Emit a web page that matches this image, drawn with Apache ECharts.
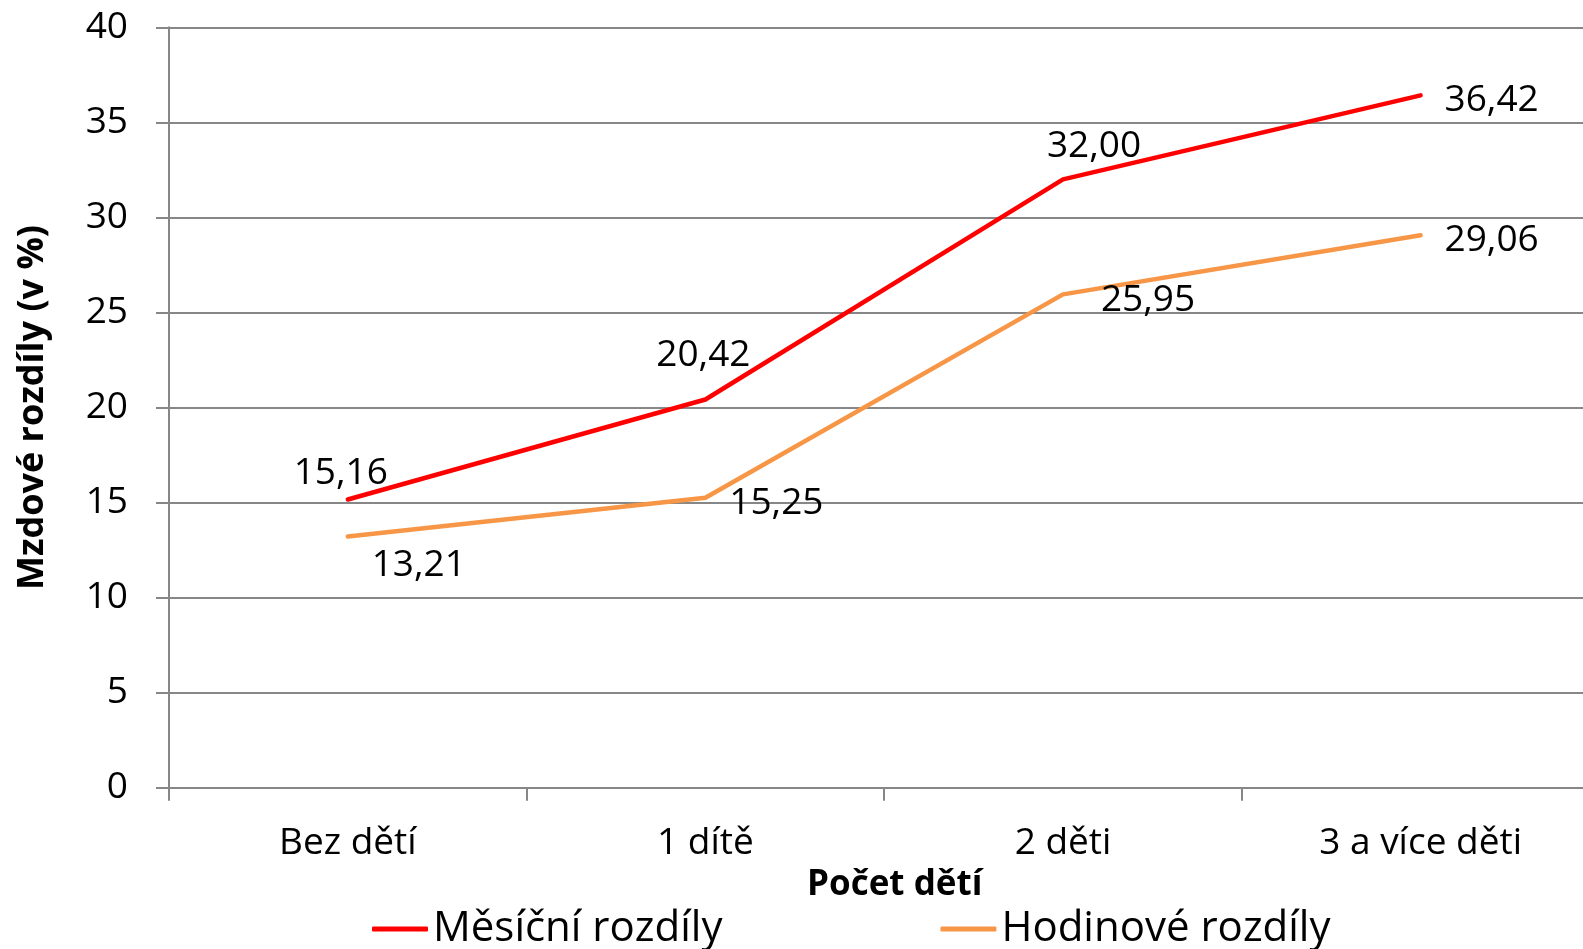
<!DOCTYPE html>
<html>
<head>
<meta charset="utf-8">
<title>Mzdové rozdíly</title>
<script src="https://cdn.jsdelivr.net/npm/echarts@6/dist/echarts.min.js"></script>
<style>
    html, body { margin: 0; padding: 0; background: #fff; overflow: hidden; }
    /* the plot runs a bit past the right edge of the picture, so the div is wider than the window */
    #chart { width: 1640px; height: 949px; }
</style>
</head>
<body>
<div id="chart"></div>
<script>
// data
var kategorie = ['Bez dětí', '1 dítě', '2 děti', '3 a více děti'];
var mesicni = [15.16, 20.42, 32.00, 36.42];
var hodinove = [13.21, 15.25, 25.95, 29.06];
var yTicks = [0, 5, 10, 15, 20, 25, 30, 35, 40];

var nazevMesicni = 'Měsíční rozdíly';
var nazevHodinove = 'Hodinové rozdíly';

// where each value label sits around its point (Excel had them moved by hand)
var offsetMesicni = [[-7, -26], [-2, -44], [31, -33], [71, 5]];
var offsetHodinove = [[71, 29], [71, 6], [85, 6], [71, 5]];

var font = 'Open Sans';
var gridColor = '#878787';

function carka(v) {
    return v.toFixed(2).replace('.', ',');
}

function bodyS(values, offsets) {
    return values.map(function (v, i) {
        return {
            value: v,
            label: { offset: offsets[i] }
        };
    });
}

var chartOption = {
    animation: false,
    textStyle: { fontFamily: font, color: '#000' },
    grid: {
        left: 169,
        top: 27.3,
        width: 1430.4,
        height: 760.4,
        containLabel: false
    },
    legend: {
        left: 367,
        top: 903,
        itemWidth: 56,
        itemHeight: 5,
        itemGap: 218,
        icon: 'roundRect',
        textStyle: { fontFamily: font, fontSize: 42, color: '#000' },
        data: [nazevMesicni, nazevHodinove]
    },
    xAxis: {
        type: 'category',
        data: kategorie,
        boundaryGap: true,
        name: 'Počet dětí',
        nameLocation: 'middle',
        nameGap: 80,
        nameTextStyle: {
            fontFamily: font,
            fontSize: 35,
            fontWeight: 'bold',
            color: '#000',
            padding: [0, 0, 0, 21]
        },
        axisLine: { lineStyle: { color: gridColor, width: 2 } },
        axisTick: { show: true, length: 13, lineStyle: { color: gridColor, width: 2 } },
        axisLabel: { fontSize: 37, color: '#000', margin: 37 }
    },
    yAxis: {
        type: 'value',
        min: yTicks[0],
        max: yTicks[yTicks.length - 1],
        interval: 5,
        name: 'Mzdové rozdíly (v %)',
        nameLocation: 'middle',
        nameGap: 118,
        nameTextStyle: {
            fontFamily: font,
            fontSize: 36,
            fontWeight: 'bold',
            color: '#000'
        },
        axisLine: { show: true, lineStyle: { color: gridColor, width: 2 } },
        axisTick: { show: true, length: 13, lineStyle: { color: gridColor, width: 2 } },
        axisLabel: { fontSize: 37, color: '#000', margin: 41 },
        splitLine: { lineStyle: { color: gridColor, width: 2 } }
    },
    series: [{
        name: nazevMesicni,
        type: 'line',
        data: bodyS(mesicni, offsetMesicni),
        symbol: 'circle',
        symbolSize: 2,
        color: '#ff0000',
        lineStyle: { width: 4.5, color: '#ff0000', cap: 'round', join: 'round' },
        label: {
            show: true,
            position: 'inside',
            align: 'center',
            verticalAlign: 'middle',
            fontSize: 37,
            color: '#000',
            formatter: function (p) { return carka(p.value); }
        }
    }, {
        name: nazevHodinove,
        type: 'line',
        data: bodyS(hodinove, offsetHodinove),
        symbol: 'circle',
        symbolSize: 2,
        color: '#f79646',
        lineStyle: { width: 4.5, color: '#f79646', cap: 'round', join: 'round' },
        label: {
            show: true,
            position: 'inside',
            align: 'center',
            verticalAlign: 'middle',
            fontSize: 37,
            color: '#000',
            formatter: function (p) { return carka(p.value); }
        }
    }]
};

var graf = echarts.init(document.getElementById('chart'));
graf.setOption(chartOption);
</script>
</body>
</html>
